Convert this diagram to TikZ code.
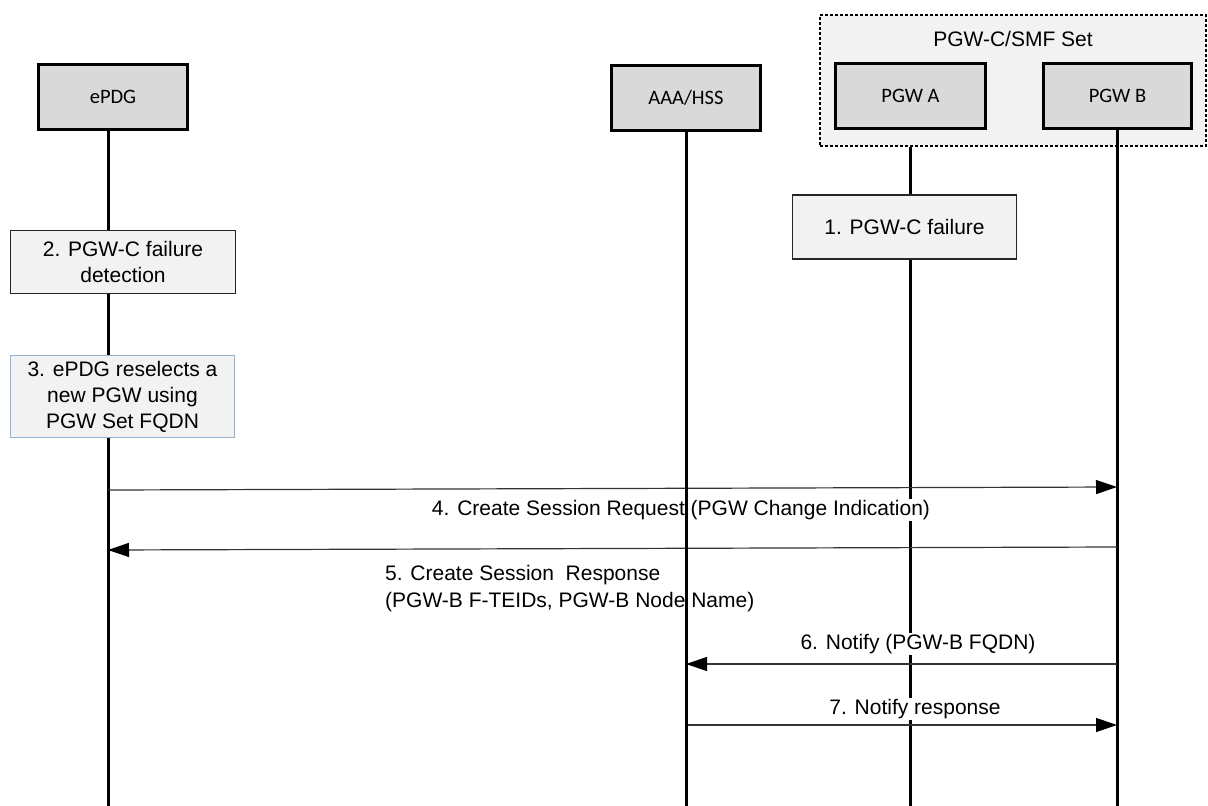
\documentclass[tikz,border=0pt]{standalone}
\usepackage{fontspec}
\setmainfont{Liberation Sans}
\newfontfamily\carlito{Carlito}
\usetikzlibrary{arrows.meta}
\definecolor{boxgray}{HTML}{D9D9D9}
\definecolor{stepgray}{HTML}{F2F2F2}
\definecolor{stepblue}{HTML}{95B3D7}
\definecolor{msgline}{HTML}{333333}
\begin{document}
\begin{tikzpicture}[x=1pt,y=-1pt,
  entity/.style={draw=black,line width=3pt,fill=boxgray,inner sep=0pt,
    minimum width=149pt,minimum height=65pt,
    font=\carlito\fontsize{20.5}{24}\selectfont},
  stepbox/.style={draw=black!85,line width=1.5pt,fill=stepgray,inner sep=0pt,
    align=center,font=\fontsize{21}{26}\selectfont},
  lifeline/.style={line width=3pt,draw=black},
  msg/.style={draw=msgline,line width=1.2pt,-{Triangle[length=21pt,width=14pt,color=black]}},
  msglabel/.style={font=\fontsize{21}{27}\selectfont,inner sep=1pt},
  setbox/.style={draw=black,line width=1.5pt,fill=stepgray,dash pattern=on 3pt off 2pt}]
\useasboundingbox (0,0) rectangle (1208,806);
% PGW set container
\node[setbox,minimum width=386pt,minimum height=131pt,inner sep=0pt] (set) at (1013,80.5) {};
\node[font=\fontsize{21}{25}\selectfont,inner sep=0pt] (settitle) at (1013,39) {PGW-C/SMF Set};
% entities
\node[entity] (epdg) at (113,97) {ePDG};
\node[entity] (aaa) at (686,97.5) {AAA/HSS};
\node[entity,minimum width=150pt] (pgwa) at (910.5,95.5) {PGW A};
\node[entity,minimum width=148pt] (pgwb) at (1117.5,95.5) {PGW B};
% lifeline ends
\coordinate (epdgE) at (108,806);
\coordinate (aaaE) at (686,806);
\coordinate (pgwaE) at (910,806);
\coordinate (pgwbE) at (1117,806);
% lifelines (AAA drawn last, above labels)
\draw[lifeline] (epdg.south -| epdgE) -- (epdgE);
\draw[lifeline] (set.south -| pgwaE) -- (pgwaE);
\draw[lifeline] (pgwb.south -| pgwbE) -- (pgwbE);
% step boxes
\node[stepbox,minimum width=224pt,minimum height=64pt] (s1) at (904.5,227) {1. PGW-C failure};
\node[stepbox,minimum width=225pt,minimum height=63pt] (s2) at (123,262) {2. PGW-C failure\\detection};
\node[stepbox,draw=stepblue,minimum width=224pt,minimum height=82pt] (s3) at (122.5,396.5) {3. ePDG reselects a\\new PGW using\\PGW Set FQDN};
% message anchor points
\coordinate (m4a) at (108,490);
\coordinate (m4b) at (1117,487);
\coordinate (m5a) at (1117,547);
\coordinate (m5b) at (108,550);
\coordinate (m6a) at (1117,664);
\coordinate (m6b) at (686,664);
\coordinate (m7a) at (686,725);
\coordinate (m7b) at (1117,725);
% messages
\draw[msg] (m4a) -- (m4b);
\draw[msg] (m5a) -- (m5b);
\draw[msg] (m6a) -- (m6b);
\draw[msg] (m7a) -- (m7b);
% labels
\node[msglabel,fill=white] (l4) at (681,510) {4. Create Session Request (PGW Change Indication)};
\node[msglabel,anchor=west,align=left] (l5) at (384,589) {5. Create Session\ \ Response\\(PGW-B F-TEIDs, PGW-B Node Name)};
\node[msglabel,fill=white] (l6) at (918,644) {6. Notify (PGW-B FQDN)};
\node[msglabel,fill=white] (l7) at (915,709) {7. Notify response};
% AAA lifeline on top
\draw[lifeline] (aaa.south) -- (aaaE);
\end{tikzpicture}
\end{document}
